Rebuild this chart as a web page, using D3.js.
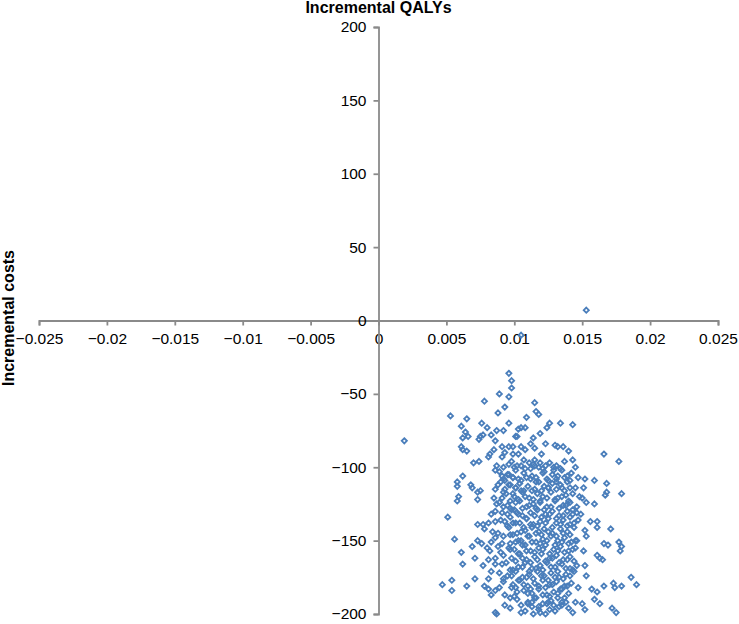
<!DOCTYPE html>
<html>
<head>
<meta charset="utf-8">
<script src="https://cdn.jsdelivr.net/npm/d3@7"></script>
<style>
  html, body { margin: 0; padding: 0; background: #fff; }
  svg { display: block; font-family: "Liberation Sans", Arial, sans-serif; }
</style>
</head>
<body>
<svg id="chart" width="739" height="624"></svg>
<script>
// ---- data ----
const xTicks = [-0.025, -0.02, -0.015, -0.01, -0.005, 0, 0.005, 0.01, 0.015, 0.02, 0.025];
const yTicks = [-200, -150, -100, -50, 0, 50, 100, 150, 200];
const xTitle = "Incremental QALYs";
const yTitle = "Incremental costs";

// [incremental QALYs, incremental costs]
const outliers = [[0.0153, 7], [0.0105, -10], [0.0019, -82]];

const upperSpread = [
  [0.0096,-36],[0.0098,-41],[0.0098,-46],[0.0089,-50],[0.0096,-52],[0.0078,-55],[0.0093,-59],[0.0088,-63],
  [0.0053,-65],[0.0065,-67],[0.0076,-70],[0.0096,-70],[0.0061,-72],[0.0080,-73],[0.0087,-75],[0.0092,-75],
  [0.0064,-76],[0.0083,-78],[0.0075,-79],[0.0077,-78],[0.0101,-79],[0.0062,-80],[0.0066,-79],[0.0074,-81],
  [0.0086,-82],[0.0096,-86],[0.0091,-86],[0.0099,-86],[0.0061,-86],[0.0062,-88],[0.0065,-89],[0.0085,-88],
  [0.0082,-91],[0.0081,-93],[0.0093,-90],[0.0099,-91],[0.0070,-97],[0.0074,-96],[0.0091,-93],[0.0096,-98],
  [0.0087,-99],[0.0092,-100],[0.0086,-102],[0.0062,-106],[0.0058,-110],[0.0068,-112],[0.0075,-116],[0.0058,-113],
  [0.0091,-106],[0.0096,-105],[0.0099,-107],[0.0093,-109],[0.0088,-112],[0.0086,-115],[0.0097,-112],[0.0101,-114],
  [0.0069,-114],
  [0.0115,-56],[0.0116,-62],[0.0118,-64],[0.0109,-66],[0.0126,-70],[0.0134,-70],[0.0143,-71],[0.0124,-73],
  [0.0105,-73],[0.0108,-73],[0.0103,-74],[0.0119,-77],[0.0114,-80],[0.0102,-79],[0.0112,-84],[0.0115,-87],
  [0.0123,-84],[0.0130,-85],[0.0132,-86],[0.0136,-86],[0.0140,-89],[0.0166,-91],[0.0177,-96],[0.0105,-86],
  [0.0108,-88],[0.0120,-91],[0.0143,-95],[0.0103,-91],[0.0107,-95],[0.0115,-95],[0.0119,-97],[0.0123,-99],
  [0.0145,-100],[0.0114,-98],[0.0105,-99],[0.0112,-101],[0.0121,-104],[0.0129,-102],[0.0132,-106],[0.0139,-106],
  [0.0147,-107],[0.0152,-108],[0.0159,-109],[0.0168,-111],[0.0141,-109],[0.0131,-110],[0.0124,-108],[0.0116,-110],
  [0.0109,-107],[0.0103,-108],[0.0125,-114],[0.0135,-114],[0.0145,-114],[0.0151,-114],[0.0168,-117],[0.0113,-116],
  [0.0105,-116]
];

const lowerSpread = [
  [0.0059,-120],[0.0058,-123],[0.0051,-134],[0.0056,-149],[0.0061,-158],[0.0062,-166],[0.0047,-180],[0.0054,-177],
  [0.0054,-184],[0.0065,-181],[0.0071,-176],[0.0069,-154],[0.0071,-162],[0.0077,-167],[0.0073,-139],[0.0077,-139],
  [0.0081,-138],[0.0083,-132],[0.0086,-137],[0.0073,-150],[0.0076,-152],[0.0080,-155],[0.0083,-151],[0.0082,-157],
  [0.0086,-162],[0.0081,-163],[0.0083,-171],[0.0081,-176],[0.0078,-181],[0.0081,-183],[0.0083,-187],[0.0086,-184],
  [0.0089,-182],[0.0086,-199],[0.0087,-200],[0.0093,-194],[0.0097,-189],[0.0093,-187],[0.0098,-182],[0.0102,-185],
  [0.0091,-166],[0.0094,-165],[0.0099,-170],[0.0088,-145],[0.0092,-147],[0.0097,-146],[0.0091,-152],[0.0096,-155],
  [0.0101,-151],[0.0087,-125],[0.0085,-121],[0.0073,-117],[0.0073,-122],[0.0091,-131],[0.0097,-128],[0.0101,-124],
  [0.0093,-137],[0.0099,-138],[0.0102,-131],[0.0092,-117],[0.0099,-118],
  [0.0167,-119],[0.0179,-118],[0.0159,-125],[0.0153,-124],[0.0146,-131],[0.0156,-137],[0.0161,-137],[0.0161,-141],
  [0.0171,-142],[0.0152,-143],[0.0153,-147],[0.0146,-150],[0.0166,-152],[0.0169,-153],[0.0177,-151],[0.0179,-154],
  [0.0178,-157],[0.0161,-160],[0.0163,-162],[0.0165,-163],[0.0151,-157],[0.0152,-167],[0.0153,-174],[0.0166,-181],
  [0.0173,-179],[0.0174,-182],[0.0179,-181],[0.0186,-175],[0.0190,-180],[0.0157,-183],[0.0161,-185],[0.0159,-190],
  [0.0163,-193],[0.0172,-196],[0.0175,-199],[0.0150,-193],[0.0152,-197],[0.0145,-192],[0.0140,-196],[0.0143,-199],
  [0.0135,-194],[0.0130,-198],[0.0125,-192],[0.0118,-197],[0.0110,-193],[0.0105,-199],[0.0114,-200],[0.0123,-200]
];

const coreA = [
  [0.0098,-96],[0.0102,-99],[0.0111,-97],[0.0118,-100],[0.0126,-97],[0.0131,-99],[0.0137,-96],
  [0.0089,-103],[0.0095,-105],[0.0101,-102],[0.0107,-104],[0.0113,-106],[0.0122,-103],[0.0128,-105],[0.0135,-102],[0.0142,-104],
  [0.0090,-110],[0.0096,-112],[0.0104,-111],[0.0110,-113],[0.0118,-110],[0.0122,-113],[0.0128,-111],[0.0134,-112],[0.0139,-110],
  [0.0094,-118],[0.0100,-120],[0.0106,-117],[0.0111,-121],[0.0117,-118],[0.0121,-120],[0.0127,-117],[0.0132,-121],[0.0138,-119],[0.0143,-118],[0.0148,-120],
  [0.0089,-124],[0.0095,-126],[0.0104,-123],[0.0109,-127],[0.0114,-125],[0.0119,-124],[0.0124,-127],[0.0130,-123],[0.0136,-126],[0.0141,-124],[0.0146,-127],
  [0.0086,-130],[0.0095,-132],[0.0100,-129],[0.0106,-133],[0.0112,-131],[0.0117,-129],[0.0123,-132],[0.0128,-130],[0.0133,-133],[0.0139,-130],[0.0143,-132],
  [0.0090,-136],[0.0104,-138],[0.0109,-135],[0.0114,-139],[0.0119,-137],[0.0125,-135],[0.0131,-138],[0.0136,-136],[0.0141,-139],[0.0147,-136],
  [0.0078,-142],[0.0084,-144],[0.0096,-141],[0.0102,-145],[0.0108,-143],[0.0113,-141],[0.0118,-144],[0.0122,-142],[0.0128,-145],[0.0134,-142],[0.0139,-144],[0.0144,-141],
  [0.0086,-148],[0.0105,-150],[0.0110,-147],[0.0116,-151],[0.0121,-149],[0.0127,-147],[0.0132,-150],[0.0137,-148],[0.0142,-151],
  [0.0088,-154],[0.0100,-156],[0.0106,-153],[0.0112,-157],[0.0118,-155],[0.0123,-153],[0.0129,-156],[0.0134,-154],[0.0140,-157],[0.0145,-155],
  [0.0092,-160],[0.0098,-162],[0.0104,-159],[0.0109,-163],[0.0115,-161],[0.0120,-159],[0.0126,-162],[0.0131,-160],[0.0136,-163],[0.0141,-161],
  [0.0086,-166],[0.0103,-168],[0.0108,-165],[0.0113,-169],[0.0119,-167],[0.0124,-165],[0.0130,-168],[0.0135,-166],[0.0141,-169],[0.0146,-167],
  [0.0089,-172],[0.0095,-174],[0.0101,-171],[0.0106,-175],[0.0111,-173],[0.0117,-171],[0.0122,-174],[0.0127,-172],[0.0133,-175],[0.0138,-173],[0.0144,-171],
  [0.0092,-178],[0.0099,-180],[0.0104,-177],[0.0110,-181],[0.0115,-179],[0.0121,-177],[0.0126,-180],[0.0131,-178],[0.0137,-181],[0.0142,-179],
  [0.0107,-184],[0.0113,-186],[0.0118,-183],[0.0124,-187],[0.0129,-185],[0.0135,-183],[0.0140,-186],
  [0.0102,-190],[0.0110,-192],[0.0115,-189],[0.0121,-193],[0.0127,-191],[0.0132,-189],[0.0138,-192],
  [0.0097,-196],[0.0108,-198],[0.0113,-195],[0.0119,-199],[0.0126,-197],[0.0133,-195]
];

const coreB = [
  [0.0100,-100],[0.0108,-101],[0.0115,-99],[0.0121,-101],[0.0129,-100],[0.0134,-101],
  [0.0092,-108],[0.0099,-107],[0.0105,-109],[0.0112,-108],[0.0116,-107],[0.0125,-109],[0.0131,-108],[0.0137,-107],
  [0.0093,-115],[0.0101,-114],[0.0107,-116],[0.0115,-115],[0.0120,-116],[0.0125,-114],[0.0131,-115],[0.0137,-116],[0.0141,-114],
  [0.0091,-121],[0.0097,-123],[0.0103,-122],[0.0108,-120],[0.0114,-122],[0.0119,-123],[0.0124,-121],[0.0130,-122],[0.0135,-120],[0.0140,-123],[0.0150,-121],
  [0.0092,-127],[0.0098,-129],[0.0106,-128],[0.0111,-126],[0.0116,-128],[0.0122,-129],[0.0127,-127],[0.0133,-128],[0.0138,-126],[0.0143,-129],
  [0.0097,-134],[0.0103,-132],[0.0109,-135],[0.0115,-133],[0.0120,-134],[0.0126,-132],[0.0131,-135],[0.0136,-133],[0.0141,-134],[0.0149,-132],
  [0.0095,-140],[0.0101,-138],[0.0107,-141],[0.0112,-139],[0.0117,-140],[0.0123,-138],[0.0128,-141],[0.0134,-139],[0.0139,-140],[0.0144,-138],
  [0.0099,-146],[0.0105,-144],[0.0111,-147],[0.0116,-145],[0.0120,-146],[0.0125,-144],[0.0131,-147],[0.0136,-145],[0.0141,-146],
  [0.0097,-152],[0.0103,-150],[0.0108,-153],[0.0113,-151],[0.0119,-152],[0.0124,-150],[0.0130,-153],[0.0135,-151],[0.0140,-152],[0.0145,-150],
  [0.0090,-158],[0.0097,-156],[0.0103,-159],[0.0109,-157],[0.0115,-158],[0.0121,-156],[0.0126,-159],[0.0132,-157],[0.0137,-158],[0.0143,-156],
  [0.0101,-164],[0.0106,-162],[0.0112,-165],[0.0117,-163],[0.0123,-164],[0.0128,-162],[0.0133,-165],[0.0139,-163],[0.0144,-164],
  [0.0097,-170],[0.0106,-168],[0.0111,-171],[0.0116,-169],[0.0121,-170],[0.0127,-168],[0.0132,-171],[0.0138,-169],[0.0143,-170],
  [0.0092,-176],[0.0098,-174],[0.0103,-177],[0.0109,-175],[0.0114,-176],[0.0120,-174],[0.0125,-177],[0.0130,-175],[0.0136,-176],[0.0141,-174],
  [0.0101,-182],[0.0107,-180],[0.0112,-183],[0.0118,-181],[0.0123,-182],[0.0128,-180],[0.0134,-183],[0.0139,-181],[0.0147,-182],
  [0.0100,-188],[0.0110,-186],[0.0116,-189],[0.0121,-187],[0.0126,-188],[0.0132,-186],[0.0137,-189],
  [0.0105,-194],[0.0113,-192],[0.0118,-195],[0.0124,-193],[0.0129,-194],[0.0135,-192]
];

// ---- chart ----
const svg = d3.select("#chart");
const x = d3.scaleLinear().domain([-0.025, 0.025]).range([39, 718]);
const y = d3.scaleLinear().domain([-200, 200]).range([614, 27]);
const axisColor = "#8a8a8a";
const fmt = d => d3.format("")(d).replace("-", "\u2212");

// x axis through cost = 0
const gx = svg.append("g")
  .attr("transform", `translate(0,${y(0)})`)
  .call(d3.axisBottom(x).tickValues(xTicks).tickSize(5).tickPadding(7).tickFormat(fmt));
// y axis through QALY = 0
const gy = svg.append("g")
  .attr("transform", `translate(${x(0)},0)`)
  .call(d3.axisLeft(y).tickValues(yTicks).tickSize(5).tickPadding(7).tickFormat(fmt));

[gx, gy].forEach(g => {
  g.select(".domain").attr("stroke", axisColor).attr("stroke-width", 1.8);
  g.selectAll(".tick line").attr("stroke", axisColor).attr("stroke-width", 1.8);
  g.selectAll(".tick text").attr("fill", "#000").style("font-size", "15.5px")
    .style("font-family", "'Liberation Sans', Arial, sans-serif");
});

// titles
svg.append("text")
  .attr("x", x(0)).attr("y", 13)
  .attr("text-anchor", "middle")
  .style("font-weight", "bold").style("font-size", "16px")
  .text(xTitle);
svg.append("text")
  .attr("transform", `translate(14,${318}) rotate(-90)`)
  .attr("text-anchor", "middle")
  .style("font-weight", "bold").style("font-size", "16px")
  .text(yTitle);

// points
const allPoints = [].concat(upperSpread, lowerSpread, coreA, coreB, outliers);
const diamond = d3.symbol().type(d3.symbolDiamond2).size(17);
svg.append("g")
  .selectAll("path")
  .data(allPoints)
  .join("path")
  .attr("d", diamond)
  .attr("transform", d => `translate(${x(d[0])},${y(d[1])})`)
  .attr("fill", "none")
  .attr("stroke", "#4a7ebb")
  .attr("stroke-width", 1.8);
</script>
</body>
</html>
